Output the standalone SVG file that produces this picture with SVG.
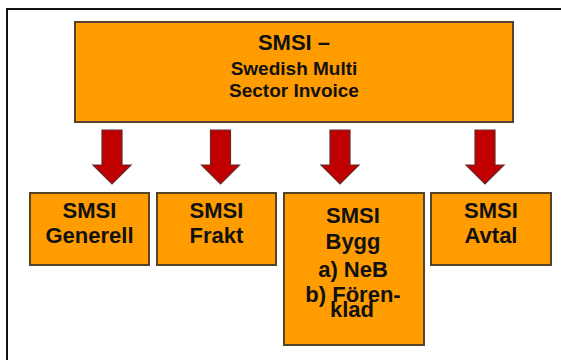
<svg xmlns="http://www.w3.org/2000/svg" width="561" height="360" viewBox="0 0 561 360">
  <defs>
    <style>
      .box { fill: #FF9C00; stroke: #55432a; stroke-width: 2; }
      .arrow { fill: #C00000; stroke: #6a2a2a; stroke-width: 1.2; }
      text { font-family: "Liberation Sans", Arial, sans-serif; font-weight: bold; fill: #111; text-anchor: middle; }
      .t22 { font-size: 22px; }
      .t19 { font-size: 19px; }
    </style>
    <!-- block arrow pointing down, origin at top centre of the shaft -->
    <path id="down" d="M-10,0 H10 V35 H19 L0,54 L-19,35 H-10 Z"/>
  </defs>

  <rect width="561" height="360" fill="#ffffff"/>

  <!-- page frame (top and left edges) -->
  <path d="M7,360 V9 H561" fill="none" stroke="#111" stroke-width="2"/>

  <g id="smsi-main">
    <rect class="box" x="75" y="22" width="438" height="100"/>
    <text class="t22" x="294" y="50">SMSI –</text>
    <text class="t19" x="294" y="75">Swedish Multi</text>
    <text class="t19" x="294" y="97">Sector Invoice</text>
  </g>

  <g id="connectors">
    <use href="#down" class="arrow" x="112" y="130"/>
    <use href="#down" class="arrow" x="220.5" y="130"/>
    <use href="#down" class="arrow" x="340" y="130"/>
    <use href="#down" class="arrow" x="485" y="130"/>
  </g>

  <g id="smsi-generell">
    <rect class="box" x="30" y="193" width="119" height="72"/>
    <text class="t22" x="89.5" y="218">SMSI</text>
    <text class="t22" x="89.5" y="243">Generell</text>
  </g>

  <g id="smsi-frakt">
    <rect class="box" x="157" y="193" width="119" height="72"/>
    <text class="t22" x="216.5" y="218">SMSI</text>
    <text class="t22" x="216.5" y="243">Frakt</text>
  </g>

  <g id="smsi-bygg">
    <rect class="box" x="284" y="193" width="140" height="152"/>
    <text class="t22" x="353" y="223">SMSI</text>
    <text class="t22" x="353" y="249">Bygg</text>
    <text class="t22" x="353" y="277">a) NeB</text>
    <text class="t22" x="353" y="302">b) Fören-</text>
    <text class="t22" x="352" y="317">klad</text>
  </g>

  <g id="smsi-avtal">
    <rect class="box" x="431" y="193" width="120" height="72"/>
    <text class="t22" x="491" y="218">SMSI</text>
    <text class="t22" x="491" y="243">Avtal</text>
  </g>
</svg>
